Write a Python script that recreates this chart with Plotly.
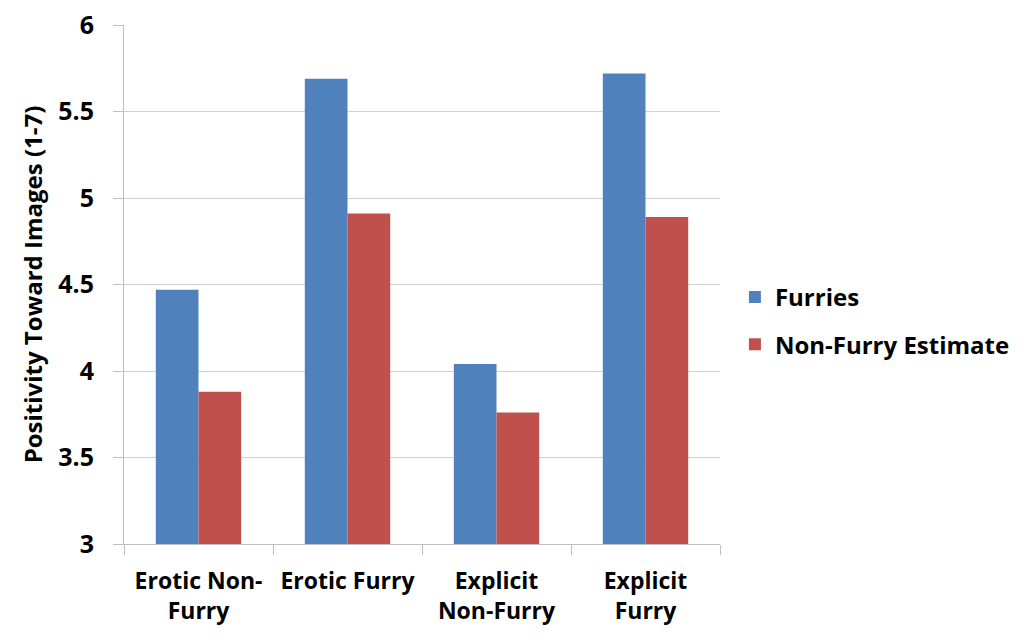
import plotly.graph_objects as go

categories = ["Erotic Non-<br>Furry", "Erotic Furry", "Explicit<br>Non-Furry", "Explicit<br>Furry"]
furries = [4.47, 5.69, 4.04, 5.72]
non_furry_estimate = [3.88, 4.91, 3.76, 4.89]
y_ticks = [3, 3.5, 4, 4.5, 5, 5.5, 6]
y_tick_labels = ["3", "3.5", "4", "4.5", "5", "5.5", "6"]

FONT = "Open Sans"
fig = go.Figure()
fig.add_trace(go.Bar(x=categories, y=furries, name="Furries",
                     marker=dict(color="#4F81BD", line=dict(width=0)),
                     legendgroup="a"))
fig.add_trace(go.Bar(x=categories, y=non_furry_estimate, name="Non-Furry Estimate",
                     marker=dict(color="#C0504D", line=dict(width=0)),
                     legendgroup="b"))

fig.update_layout(
    width=1024, height=644,
    margin=dict(l=124, r=304, t=25, b=100, autoexpand=False),
    paper_bgcolor="white", plot_bgcolor="white",
    barmode="group", bargap=0.427, bargroupgap=0,
    font=dict(family=FONT, color="black", size=20),
    legend=dict(x=1.025, xanchor="left", y=0.43, yanchor="middle",
                font=dict(family=FONT, size=24, color="black", weight="bold"),
                tracegroupgap=13, itemwidth=30),
    showlegend=True,
)
fig.update_xaxes(
    automargin=False,
    showline=True, linecolor="#BFBFBF", linewidth=1,
    ticks="outside", tickson="boundaries", ticklen=10, tickcolor="#BFBFBF",
    ticklabelstandoff=16,
    tickfont=dict(family=FONT, size=23, color="black", weight="bold"),
    showgrid=False,
)
fig.update_yaxes(
    automargin=False,
    range=[3, 6], tickvals=y_ticks, ticktext=y_tick_labels,
    showline=True, linecolor="#BFBFBF", linewidth=1,
    ticks="outside", ticklen=10, tickcolor="#BFBFBF",
    ticklabelstandoff=14,
    showgrid=True, gridcolor="#D0D0D0", gridwidth=1,
    zeroline=False,
    tickfont=dict(family=FONT, size=25, color="black", weight="bold"),
    title=dict(text="Positivity Toward Images (1-7)",
               font=dict(family=FONT, size=24, color="black", weight="bold"),
               standoff=8),
)
fig.write_html("out.html")
